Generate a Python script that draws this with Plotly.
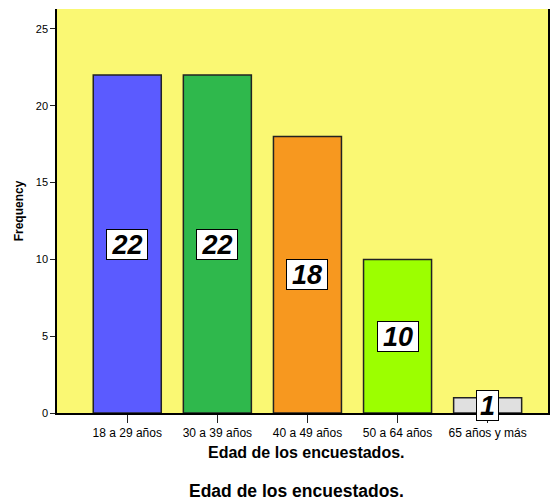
import plotly.graph_objects as go

categories = ["18 a 29 años", "30 a 39 años", "40 a 49 años", "50 a 64 años", "65 años y más"]
counts = [22, 22, 18, 10, 1]
colors = ["#5b5bff", "#2fb84c", "#f7981f", "#9cff00", "#e0e0e0"]
x_title = "Edad de los encuestados."
y_title = "Frequency"
caption = "Edad de los encuestados."

PLOT_L, PLOT_T, PLOT_B = 57, 9, 413
PLOT_W, PLOT_H = 550 - PLOT_L, PLOT_B - PLOT_T

fig = go.Figure()
fig.add_trace(go.Bar(
    x=list(range(len(categories))), y=counts,
    marker=dict(color=colors, line=dict(color="#222222", width=1.5)),
    width=0.755, showlegend=False, hoverinfo="skip",
))

for i, v in enumerate(counts):
    fig.add_annotation(
        x=i, y=v / 2, text=str(v), showarrow=False,
        font=dict(family="Liberation Sans, Arial", size=27, color="black",
                  weight="bold", style="italic"),
        bgcolor="white", bordercolor="black", borderwidth=1, borderpad=1,
        width=19 * len(str(v)), height=27,
    )

fig.update_layout(
    width=550, height=503,
    margin=dict(l=PLOT_L, r=0, t=PLOT_T, b=503 - PLOT_B),
    paper_bgcolor="white", plot_bgcolor="#faf873",
    font=dict(family="Liberation Sans, Arial", color="black"),
    xaxis=dict(
        range=[-0.78, 4.67], tickmode="array",
        tickvals=list(range(len(categories))), ticktext=categories,
        ticks="outside", ticklen=8, tickcolor="#222", tickwidth=1,
        tickfont=dict(size=12), showgrid=False, zeroline=False,
        showline=True, linecolor="black", linewidth=1.5,
    ),
    yaxis=dict(
        range=[0, 26.3], tickvals=[0, 5, 10, 15, 20, 25],
        ticks="outside", ticklen=5, tickcolor="#222", tickwidth=1,
        tickfont=dict(size=11), showgrid=False, zeroline=False,
        showline=True, linecolor="black", linewidth=1.5, mirror=True,
        title=dict(text="<b>" + y_title + "</b>", font=dict(size=12), standoff=10),
    ),
)
fig.add_annotation(
    x=(308 - PLOT_L) / PLOT_W, y=-(452 - PLOT_B) / PLOT_H,
    xref="paper", yref="paper", showarrow=False, yanchor="middle",
    text="<b>" + x_title + "</b>", font=dict(size=16),
)
fig.add_annotation(
    x=(297.5 - PLOT_L) / PLOT_W, y=-(491 - PLOT_B) / PLOT_H,
    xref="paper", yref="paper", showarrow=False, yanchor="middle",
    text="<b>" + caption + "</b>", font=dict(size=17.5),
)

fig.write_html("out.html")
